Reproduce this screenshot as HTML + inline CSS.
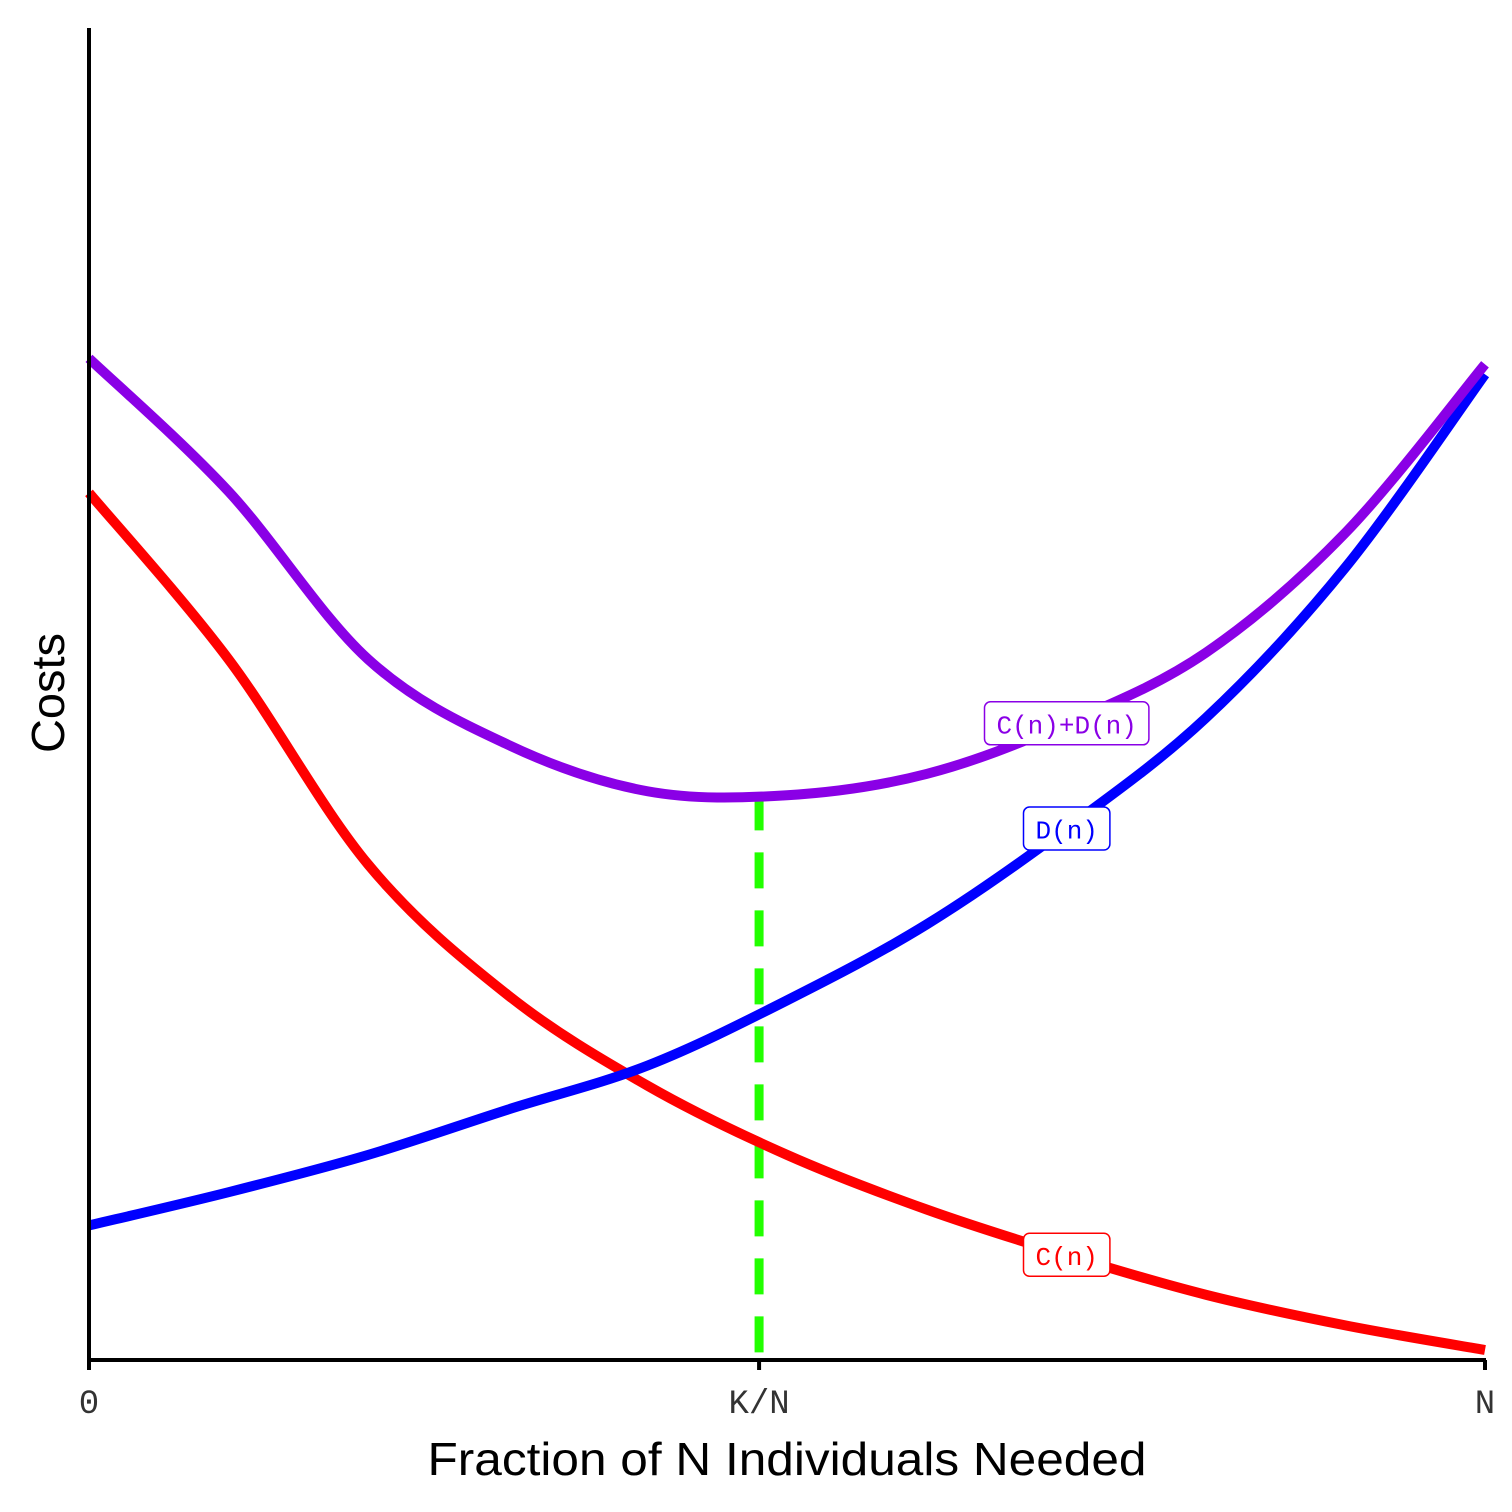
<!DOCTYPE html>
<html><head><meta charset="utf-8"><style>
html,body{margin:0;padding:0;background:#fff;}
svg{display:block;}
</style></head><body>
<svg id="chart" width="1512" height="1512" viewBox="0 0 1512 1512" xmlns="http://www.w3.org/2000/svg">
<rect width="1512" height="1512" fill="#fff"/>
<g id="curves"></g>
<line x1="89" y1="28" x2="89" y2="1361" stroke="#000" stroke-width="4"/>
<line x1="87" y1="1360" x2="1486" y2="1360" stroke="#000" stroke-width="4"/>
<g id="ticks"></g>
<text x="787" y="1475" text-anchor="middle" font-family="Liberation Sans, sans-serif" font-size="46" textLength="719" lengthAdjust="spacingAndGlyphs" fill="#000">Fraction of N Individuals Needed</text>
<text transform="translate(64,693) rotate(-90)" text-anchor="middle" font-family="Liberation Sans, sans-serif" font-size="46" textLength="120" lengthAdjust="spacingAndGlyphs" fill="#000">Costs</text>
<g id="labels"></g>
</svg>
<script>
// data: fraction of N (0..1), costs (0..100)
const xs = [0,0.1,0.2,0.3,0.4,0.5,0.6,0.7,0.8,0.9,1];
const costC = [65.1,52.6,37.2,27.4,20.6,15.4,11.3,7.9,4.9,2.6,0.75];
const costD = [10.1,12.6,15.4,18.8,22.1,27.0,32.7,39.9,48.2,59.5,74.0];
const optimumX = 0.48;
const tickPos = [0,0.48,1];
const tickLabels = ["0","K/N","N"];

const X0=89,X1=1485,Y0=1360,YTOP=28;
const sx = t => X0 + t*(X1-X0);
const sy = v => Y0 - v*(Y0-YTOP)/100;
const NS="http://www.w3.org/2000/svg";

function pathFrom(vals){
  const p = xs.map((x,i)=>[sx(x),sy(vals[i])]);
  let d = "M"+p[0][0]+","+p[0][1];
  for(let i=0;i<p.length-1;i++){
    const a=p[Math.max(0,i-1)],b=p[i],c=p[i+1],e=p[Math.min(p.length-1,i+2)];
    const c1=[b[0]+(c[0]-a[0])/6,b[1]+(c[1]-a[1])/6];
    const c2=[c[0]-(e[0]-b[0])/6,c[1]-(e[1]-b[1])/6];
    d+=" C"+c1+" "+c2+" "+c;
  }
  return d;
}
function interp(vals,t){
  for(let i=0;i<xs.length-1;i++){ if(t<=xs[i+1]){const f=(t-xs[i])/(xs[i+1]-xs[i]);return vals[i]+f*(vals[i+1]-vals[i]);} }
  return vals[vals.length-1];
}
const costSum = costC.map((c,i)=>c+costD[i]);
const g=document.getElementById('curves');

const opt=document.createElementNS(NS,'line');


opt.setAttribute('x1',sx(optimumX));opt.setAttribute('x2',sx(optimumX));
opt.setAttribute('y1',sy(interp(costSum,optimumX)));opt.setAttribute('y2',Y0);
opt.setAttribute('stroke','#22ff00');opt.setAttribute('stroke-width','9');opt.setAttribute('stroke-dasharray','36 22');
g.appendChild(opt);

const series=[["curve-c",costC,"#ff0000"],["curve-d",costD,"#0000ff"],["curve-sum",costSum,"#8a00e6"]];
series.forEach(s=>{
  const p=document.createElementNS(NS,'path');
  
  
  p.setAttribute('d',pathFrom(s[1]));p.setAttribute('fill','none');
  p.setAttribute('stroke',s[2]);p.setAttribute('stroke-width','10');
  g.appendChild(p);
});

const tg=document.getElementById('ticks');
tickPos.forEach((t,i)=>{
  const l=document.createElementNS(NS,'line');
  
  
  l.setAttribute('x1',sx(t));l.setAttribute('x2',sx(t));l.setAttribute('y1',Y0);l.setAttribute('y2',Y0+10);
  l.setAttribute('stroke','#000');l.setAttribute('stroke-width','4');tg.appendChild(l);
  const tx=document.createElementNS(NS,'text');
  
  
  tx.setAttribute('x',sx(t));tx.setAttribute('y',1413);tx.setAttribute('text-anchor','middle');
  tx.setAttribute('font-family','Liberation Mono, monospace');tx.setAttribute('font-size','34');tx.setAttribute('fill','#333');
  tx.textContent=tickLabels[i];tg.appendChild(tx);
});

const labelText=["C(n)+D(n)","D(n)","C(n)"];
const labelVals=[costSum,costD,costC];
const labelColors=["#8a00e6","#0000ff","#ff0000"];
const labelX=0.7;
const lg=document.getElementById('labels');
labelText.forEach((txt,i)=>{
  const cx=sx(labelX)+0.5, cy=sy(interp(labelVals[i],labelX));
  const w=txt.length*15.6+24, h=43;
  const r=document.createElementNS(NS,'rect');
  
  
  r.setAttribute('x',cx-w/2);r.setAttribute('y',cy-h/2);r.setAttribute('width',w);r.setAttribute('height',h);
  r.setAttribute('rx','6');r.setAttribute('fill','#fff');r.setAttribute('stroke',labelColors[i]);r.setAttribute('stroke-width','1.5');
  lg.appendChild(r);
  const t=document.createElementNS(NS,'text');
  
  
  t.setAttribute('x',cx);t.setAttribute('y',cy+10);t.setAttribute('text-anchor','middle');
  t.setAttribute('font-family','Liberation Mono, monospace');t.setAttribute('font-size','26');t.setAttribute('fill',labelColors[i]);
  t.textContent=txt;lg.appendChild(t);
});
</script>
</body></html>
